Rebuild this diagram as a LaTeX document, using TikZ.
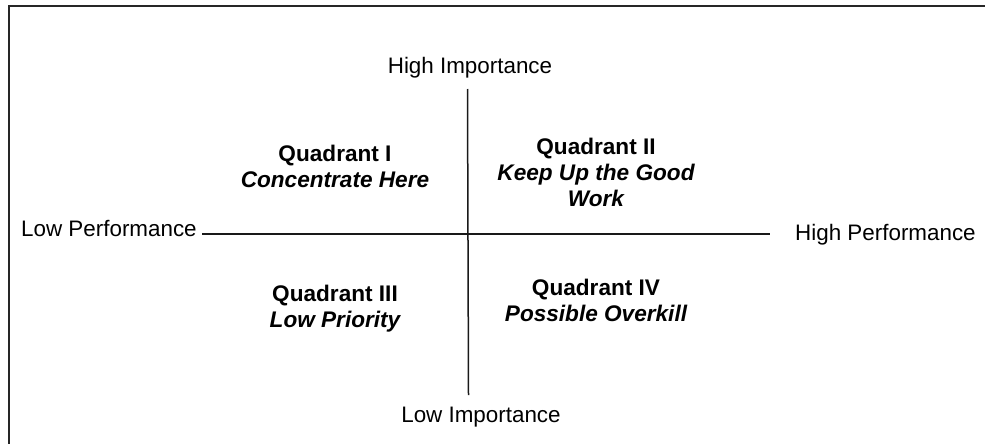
\documentclass[tikz,border=0pt]{standalone}
\usepackage{fontspec}
\setmainfont{Liberation Sans}
\begin{document}
\begin{tikzpicture}[x=1pt,y=-1pt,
  lbl/.style={inner sep=0pt,font=\fontsize{22.4}{26}\selectfont},
  quad/.style={inner sep=0pt,align=center,font=\fontsize{22.6}{26}\selectfont\bfseries},
  axis/.style={line width=1.5pt,black!90}]
\useasboundingbox (0,0) rectangle (985,444);
% frame (only top and left edges visible)
\draw[line width=2pt,black!85] (9,444) -- (9,6.5) -- (985,6.5);
% axes
\coordinate (vt) at (467.5,89);
\coordinate (vb) at (468.5,395);
\coordinate (hl) at (202,234);
\coordinate (hr) at (770,234);
\draw[axis] (vt) -- (vb);
\draw[axis] (hl) -- (hr);
% axis labels
\node[lbl] (hi) at (470,68) {High Importance};
\node[lbl] (li) at (481,417) {Low Importance};
\node[lbl,anchor=west] (lp) at (21,229) {Low Performance};
\node[lbl,anchor=west] (hp) at (795,235) {High Performance};
% quadrants
\node[quad] (q1) at (335,166) {Quadrant I\\\itshape Concentrate Here};
\node[quad] (q2) at (596,172) {Quadrant II\\\itshape Keep Up the Good\\\itshape Work};
\node[quad] (q3) at (335,308.5) {Quadrant III\\\itshape Low Priority};
\node[quad] (q4) at (596,300.5) {Quadrant IV\\\itshape Possible Overkill};
\end{tikzpicture}
\end{document}
